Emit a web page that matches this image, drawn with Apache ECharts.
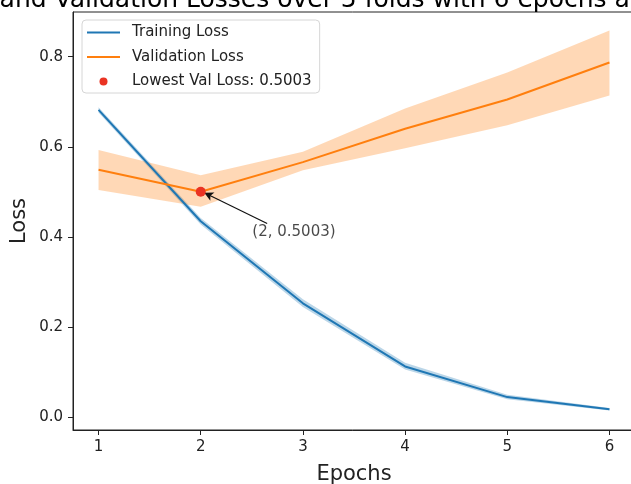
<!DOCTYPE html>
<html>
<head>
<meta charset="utf-8">
<script src="https://cdn.jsdelivr.net/npm/echarts@6/dist/echarts.min.js"></script>
<style>html,body{margin:0;padding:0;background:#fff}#c{width:631px;height:484px}</style>
</head>
<body>
<div id="c"></div>
<script>
const epochs = [1, 2, 3, 4, 5, 6];
const trainMean  = [0.682, 0.435, 0.253, 0.113, 0.045, 0.018];
const trainLower = [0.676, 0.428, 0.245, 0.106, 0.040, 0.015];
const trainUpper = [0.688, 0.442, 0.262, 0.121, 0.050, 0.021];
const valMean  = [0.549, 0.5003, 0.566, 0.640, 0.705, 0.787];
const valLower = [0.504, 0.467, 0.548, 0.597, 0.648, 0.714];
const valUpper = [0.593, 0.537, 0.589, 0.685, 0.765, 0.858];
const xTicks = [1, 2, 3, 4, 5, 6];
const yTicks = [0.0, 0.2, 0.4, 0.6, 0.8];

const minIdx = valMean.indexOf(Math.min(...valMean));
const minEpoch = epochs[minIdx];
const minVal = valMean[minIdx];
const bestLabel = 'Lowest Val Loss: ' + minVal.toFixed(4);
const annText = '(' + minEpoch + ', ' + minVal.toFixed(4) + ')';

const FONT = 'DejaVu Sans';
const TXT = '#222';
const LINE_ICON = 'path://M0,0 L33,0 L33,2 L0,2 Z';

function band(lower, upper, fill) {
  return {
    type: 'custom',
    silent: true,
    z: 2,
    data: [[epochs[0], lower[0]]],
    renderItem: function (params, api) {
      const pts = [];
      for (let i = 0; i < epochs.length; i++) pts.push(api.coord([epochs[i], upper[i]]));
      for (let i = epochs.length - 1; i >= 0; i--) pts.push(api.coord([epochs[i], lower[i]]));
      return { type: 'polygon', shape: { points: pts }, style: { fill: fill } };
    }
  };
}
const pairs = (ys) => epochs.map((x, i) => [x, ys[i]]);

const chart = echarts.init(document.getElementById('c'), null, { renderer: 'canvas' });
chart.setOption({
  animation: false,
  backgroundColor: '#fff',
  title: {
    text: 'Training and Validation Losses over 5 folds with 6 epochs and Std Dev',
    left: -112,
    top: -17,
    textStyle: { fontFamily: FONT, fontSize: 25, fontWeight: 'normal', color: '#000' }
  },
  grid: {
    left: 73, top: 12, width: 562, height: 418,
    outerBoundsMode: 'none', containLabel: false,
    show: true, borderColor: '#222', borderWidth: 1, backgroundColor: 'transparent'
  },
  legend: {
    left: 82, top: 20, orient: 'vertical',
    padding: [5, 8, 4, 5],
    itemWidth: 33, itemHeight: 8, itemGap: 9.5,
    backgroundColor: 'rgba(255,255,255,0.8)',
    borderColor: '#d6d6d6', borderWidth: 1, borderRadius: 4,
    textStyle: { fontFamily: FONT, fontSize: 15, color: TXT, lineHeight: 15, padding: [0, 0, 0, 7] },
    data: [
      { name: 'Training Loss', icon: LINE_ICON, itemStyle: { color: '#1f77b4' } },
      { name: 'Validation Loss', icon: LINE_ICON, itemStyle: { color: '#ff7f0e' } },
      { name: bestLabel, icon: 'circle' }
    ]
  },
  xAxis: {
    type: 'value', min: 0.75, max: 6.25,
    name: 'Epochs', nameLocation: 'middle', nameGap: 34,
    nameTextStyle: { fontFamily: FONT, fontSize: 21, color: TXT },
    axisLine: { show: true, onZero: false, lineStyle: { color: '#222', width: 1 } },
    axisTick: { show: true, length: 5, inside: false, customValues: xTicks, lineStyle: { color: '#222' } },
    axisLabel: { customValues: xTicks, margin: 10, fontFamily: FONT, fontSize: 15, color: TXT,
      formatter: (v) => String(v) },
    splitLine: { show: false }
  },
  yAxis: {
    type: 'value', min: -0.028, max: 0.899,
    name: 'Loss', nameLocation: 'middle', nameGap: 43, nameMoveOverlap: false,
    nameTextStyle: { fontFamily: FONT, fontSize: 21, color: TXT },
    axisLine: { show: true, onZero: false, lineStyle: { color: '#222', width: 1 } },
    axisTick: { show: true, length: 5, inside: false, customValues: yTicks, lineStyle: { color: '#222' } },
    axisLabel: { customValues: yTicks, margin: 10, fontFamily: FONT, fontSize: 15, color: TXT,
      formatter: (v) => v.toFixed(1) },
    splitLine: { show: false }
  },
  series: [
    {
      name: 'Training Loss', type: 'line', data: pairs(trainMean),
      symbol: 'none', z: 3,
      lineStyle: { color: '#1f77b4', width: 2 }, itemStyle: { color: '#1f77b4' }
    },
    band(trainLower, trainUpper, 'rgba(31,119,180,0.3)'),
    {
      name: 'Validation Loss', type: 'line', data: pairs(valMean),
      symbol: 'none', z: 4,
      lineStyle: { color: '#ff7f0e', width: 2 }, itemStyle: { color: '#ff7f0e' }
    },
    band(valLower, valUpper, 'rgba(255,127,14,0.3)'),
    {
      name: bestLabel, type: 'scatter', data: [[minEpoch, minVal]],
      symbol: 'circle', symbolSize: 10, z: 6,
      itemStyle: { color: '#ea3323', opacity: 1 }
    },
    {
      type: 'scatter', silent: true, z: 7,
      data: [[minEpoch + 0.5, 0.4]],
      symbolSize: 1, itemStyle: { color: 'rgba(0,0,0,0)' },
      label: {
        show: true, position: 'right', distance: 0, offset: [0, -5],
        formatter: annText, fontFamily: FONT, fontSize: 15, color: '#1a1a1a'
      },
      markLine: {
        silent: true, animation: false,
        symbol: ['none', 'arrow'], symbolSize: [7, 9],
        label: { show: false },
        lineStyle: { color: '#111', width: 1.2, type: 'solid' },
        data: [[{ coord: [minEpoch + 0.65, 0.43] }, { coord: [minEpoch + 0.035, minVal - 0.002] }]]
      }
    }
  ]
});
</script>
</body>
</html>
